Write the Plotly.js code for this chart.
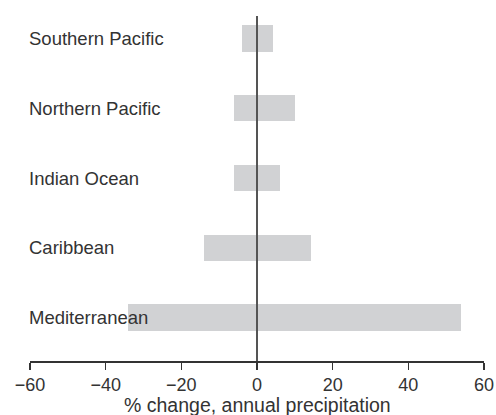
<!DOCTYPE html>
<html>
<head>
<meta charset="utf-8">
<script src="https://cdn.plot.ly/plotly-3.0.1.min.js"></script>
<style>html,body{margin:0;padding:0;background:#fff;}#chart{width:496px;height:415px;}</style>
</head>
<body>
<div id="chart"></div>
<script>
// Regions (bottom to top)
var regions = ["Mediterranean", "Caribbean", "Indian Ocean", "Northern Pacific", "Southern Pacific"];
// Lower and upper ends of % change in annual precipitation
var lowChange = [-34, -14, -6, -6, -4];
var highChange = [54, 14.3, 6.1, 10, 4.2];
var xTickVals = [-60, -40, -20, 0, 20, 40, 60];
var xTitle = "% change, annual precipitation";

var FONT = "Liberation Sans, Arial, sans-serif";
var TXT = "#333333";

var trace = {
  type: "bar",
  orientation: "h",
  y: regions,
  base: lowChange,
  x: highChange.map(function (h, i) { return h - lowChange[i]; }),
  width: 0.38,
  marker: { color: "#d1d2d4", line: { width: 0 } },
  hoverinfo: "skip",
  showlegend: false
};

var annotations = regions.map(function (r) {
  return {
    xref: "paper", yref: "y", x: 0, y: r, text: r,
    xanchor: "left", yanchor: "middle", showarrow: false, xshift: -3,
    font: { family: FONT, size: 18.5, color: TXT }
  };
});
annotations.push({
  xref: "paper", yref: "paper", x: 0.5, y: 0, text: xTitle,
  xanchor: "center", yanchor: "top", showarrow: false, yshift: -31,
  font: { family: FONT, size: 19.5, color: TXT }
});

var layout = {
  width: 496, height: 415,
  margin: { l: 30, r: 12, t: 16, b: 54, pad: 0 },
  paper_bgcolor: "#ffffff", plot_bgcolor: "#ffffff",
  xaxis: {
    range: [-60, 60], tickvals: xTickVals, showgrid: false, zeroline: false,
    showline: true, linecolor: TXT, linewidth: 1.5,
    ticks: "outside", ticklen: 7, tickwidth: 1.5, tickcolor: TXT,
    tickfont: { family: FONT, size: 18, color: TXT },
    automargin: false, fixedrange: true
  },
  yaxis: {
    type: "category", categoryorder: "array", categoryarray: regions,
    range: [-0.62, 4.32], showticklabels: false, showgrid: false, zeroline: false,
    showline: false, ticks: "", automargin: false, fixedrange: true
  },
  shapes: [{
    type: "line", xref: "x", yref: "paper", x0: 0, x1: 0, y0: 0, y1: 1,
    line: { color: "#555555", width: 2 }, layer: "above"
  }],
  annotations: annotations,
  bargap: 0
};

Plotly.newPlot("chart", [trace], layout, { displayModeBar: false, staticPlot: true });
</script>
</body>
</html>
